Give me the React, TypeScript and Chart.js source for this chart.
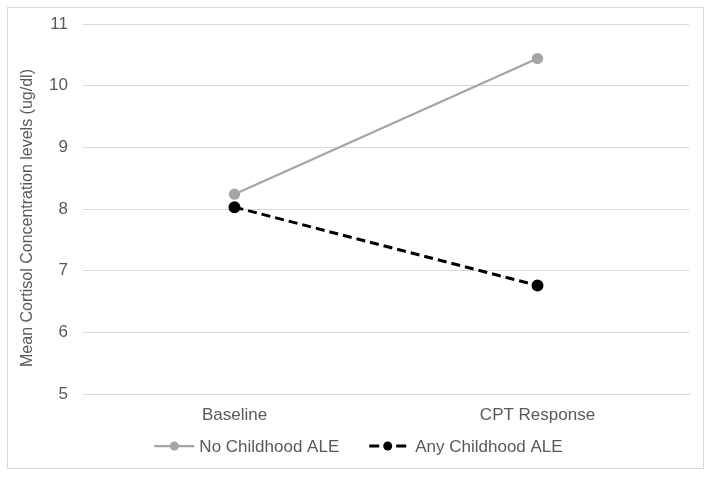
import React, { useEffect, useRef } from "react";
import { Chart, registerables } from "chart.js";
Chart.register(...registerables);

const categories = ["Baseline", "CPT Response"];
const noChildhoodALE = [8.24, 10.44];
const anyChildhoodALE = [8.03, 6.76];
const seriesLabels = ["No Childhood ALE", "Any Childhood ALE"];
const yTitle = "Mean Cortisol Concentration levels (ug/dl)";
const yTicks = [5, 6, 7, 8, 9, 10, 11];

const FONT = "Liberation Sans, Arial, sans-serif";
const TEXT = "#595959";
const GREY = "#a5a5a5";
const BLACK = "#000000";

const yTitlePlugin = {
  id: "yTitle",
  afterDraw(chart: any) {
    const ctx = chart.ctx as CanvasRenderingContext2D;
    const a = chart.chartArea;
    ctx.save();
    ctx.font = `16px ${FONT}`;
    ctx.fillStyle = TEXT;
    ctx.textAlign = "center";
    ctx.textBaseline = "middle";
    ctx.translate(20, (a.top + a.bottom) / 2 + 9);
    ctx.rotate(-Math.PI / 2);
    ctx.fillText(yTitle, 0, 0);
    ctx.restore();
  },
};

const legendPlugin = {
  id: "customLegend",
  afterDraw(chart: any) {
    const ctx = chart.ctx as CanvasRenderingContext2D;
    ctx.save();
    ctx.font = `17px ${FONT}`;
    ctx.textBaseline = "middle";
    ctx.fillStyle = TEXT;
    const iconW = [40, 37];
    const textGap = [5, 9];
    const itemGap = 30;
    const w0 = iconW[0] + textGap[0] + ctx.measureText(seriesLabels[0]).width;
    const w1 = iconW[1] + textGap[1] + ctx.measureText(seriesLabels[1]).width;
    const total = w0 + itemGap + w1;
    let x = chart.width / 2 + 3 - total / 2;
    const y = chart.height - 22;
    ctx.strokeStyle = GREY;
    ctx.lineWidth = 2.25;
    ctx.beginPath();
    ctx.moveTo(x, y);
    ctx.lineTo(x + iconW[0], y);
    ctx.stroke();
    ctx.fillStyle = GREY;
    ctx.beginPath();
    ctx.arc(x + iconW[0] / 2, y, 4.5, 0, Math.PI * 2);
    ctx.fill();
    ctx.fillStyle = TEXT;
    ctx.fillText(seriesLabels[0], x + iconW[0] + textGap[0], y + 1);
    x += w0 + itemGap;
    ctx.strokeStyle = BLACK;
    ctx.lineWidth = 3;
    ctx.beginPath();
    ctx.moveTo(x, y);
    ctx.lineTo(x + 10, y);
    ctx.moveTo(x + iconW[1] - 10, y);
    ctx.lineTo(x + iconW[1], y);
    ctx.stroke();
    ctx.fillStyle = BLACK;
    ctx.beginPath();
    ctx.arc(x + iconW[1] / 2, y, 4.5, 0, Math.PI * 2);
    ctx.fill();
    ctx.fillStyle = TEXT;
    ctx.fillText(seriesLabels[1], x + iconW[1] + textGap[1], y + 1);
    ctx.restore();
  },
};

export default function App() {
  const ref = useRef<HTMLCanvasElement>(null);
  useEffect(() => {
    const chart = new Chart(ref.current!, {
      type: "line",
      data: {
        labels: categories,
        datasets: [
          {
            label: seriesLabels[0],
            data: noChildhoodALE,
            borderColor: GREY,
            backgroundColor: GREY,
            borderWidth: 2.25,
            pointRadius: 4.5,
            pointBackgroundColor: GREY,
            pointBorderColor: GREY,
          },
          {
            label: seriesLabels[1],
            data: anyChildhoodALE,
            borderColor: BLACK,
            backgroundColor: BLACK,
            borderWidth: 3,
            borderDash: [9, 5],
            pointRadius: 4.5,
            pointBackgroundColor: BLACK,
            pointBorderColor: BLACK,
          },
        ],
      },
      options: {
        animation: false,
        responsive: false,
        layout: { padding: { top: 16, right: 14, left: 8, bottom: 44 } },
        plugins: {
          tooltip: { enabled: false },
          legend: { display: false },
        },
        scales: {
          x: {
            offset: true,
            grid: { display: false, drawTicks: false },
            border: { display: true, color: "#d9d9d9" },
            ticks: {
              color: TEXT,
              font: { family: FONT, size: 17 },
              padding: 11,
            },
            afterFit(scale: any) {
              scale.height = 30;
              scale.paddingLeft = 0;
              scale.paddingRight = 0;
            },
          },
          y: {
            min: 5,
            max: 11,
            afterBuildTicks(scale: any) {
              scale.ticks = yTicks.map((v) => ({ value: v }));
            },
            ticks: {
              color: TEXT,
              font: { family: FONT, size: 17 },
              padding: 15,
            },
            grid: { color: "#d9d9d9", drawTicks: false },
            border: { display: false },
            title: { display: false },
            afterFit(scale: any) {
              scale.width = 67;
              scale.paddingTop = 0;
              scale.paddingBottom = 0;
            },
          },
        },
      },
      plugins: [yTitlePlugin, legendPlugin],
    });
    return () => chart.destroy();
  }, []);
  return (
    <div
      style={{
        position: "fixed",
        left: 7,
        top: 7,
        width: 697,
        height: 462,
        border: "1px solid #d9d9d9",
        background: "#fff",
        boxSizing: "border-box",
      }}
    >
      <canvas ref={ref} width={695} height={460} style={{ display: "block" }} />
    </div>
  );
}
